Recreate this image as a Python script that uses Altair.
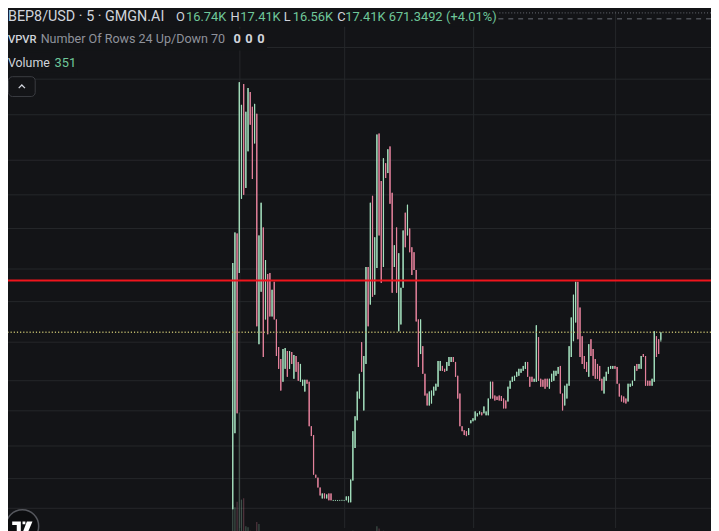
import altair as alt
import pandas as pd

# ---------------- data (prices in K) ----------------
open_ = [1.30, 8.23, 26.41, 22.81, 29.56, 40.00, 30.55, 33.88, 39.28, 37.93,
         34.60, 37.30, 16.33, 21.10, 26.95, 18.58, 22.72, 22.81, 18.85, 22.00,
         18.58, 16.06, 14.98, 12.91, 14.08, 15.70, 14.08, 15.61, 13.18, 15.25,
         14.71, 12.91, 12.55, 12.01, 13.09, 12.91, 8.86, 8.05, 4.45, 4.18,
         3.28, 2.29, 2.74, 2.29, 2.74, 2.74, 2.10, 2.10, 2.10, 2.10,
         2.10, 2.10, 2.11, 1.93, 1.93, 3.91, 6.88, 9.40, 11.38, 16.51,
         10.30, 14.53, 23.35, 19.93, 29.83, 20.83, 23.26, 35.50, 31.18, 23.35,
         32.80, 31.90, 34.33, 30.10, 23.35, 26.95, 17.50, 18.13, 21.46, 28.30,
         26.23, 26.86, 25.15, 24.70, 23.08, 18.58, 15.43, 16.15, 13.63, 11.83,
         10.75, 10.93, 11.65, 12.10, 12.46, 13.90, 14.35, 14.08, 13.90, 14.35,
         14.71, 15.16, 14.71, 13.45, 11.83, 8.86, 8.50, 8.41, 8.05, 9.13,
         9.31, 9.40, 9.76, 9.94, 10.12, 10.03, 9.85, 9.85, 11.38, 12.91,
         11.65, 11.56, 11.65, 11.60, 11.38, 11.20, 11.11, 12.28, 12.91, 13.00,
         13.36, 13.45, 13.72, 13.90, 14.08, 14.71, 13.36, 13.36, 12.91, 12.91,
         16.96, 13.18, 13.09, 13.18, 13.18, 12.28, 12.91, 13.00, 13.45, 13.63,
         14.35, 11.83, 10.75, 11.38, 12.55, 15.16, 16.60, 18.31, 22.00, 19.66,
         17.05, 15.25, 14.71, 13.36, 16.78, 15.88, 14.98, 14.53, 14.35, 13.18,
         11.83, 13.00, 13.63, 14.08, 14.08, 14.35, 14.26, 12.73, 11.65, 11.56,
         11.38, 11.11, 12.46, 12.55, 13.00, 14.53, 14.08, 14.08, 15.43, 15.25,
         13.00, 13.00, 12.55, 12.91, 17.05, 16.78, 16.74]

high = [23.71, 26.50, 26.41, 40.18, 38.11, 40.00, 37.48, 39.64, 39.28, 37.93,
        38.20, 37.30, 26.23, 29.20, 26.95, 23.98, 22.72, 22.81, 21.28, 22.00,
        18.58, 16.06, 14.98, 15.88, 15.97, 15.70, 15.70, 15.61, 15.34, 15.25,
        14.71, 14.53, 13.09, 13.09, 13.09, 12.91, 8.86, 8.05, 4.45, 4.18,
        3.28, 2.74, 2.74, 2.65, 2.74, 2.74, 2.15, 2.15, 2.14, 2.15,
        2.16, 2.15, 2.47, 2.47, 4.00, 8.41, 9.76, 12.01, 13.63, 16.51,
        15.25, 23.35, 23.35, 29.20, 29.83, 26.05, 35.41, 35.50, 31.18, 33.25,
        32.80, 34.06, 34.33, 30.10, 25.33, 26.95, 24.61, 21.46, 26.68, 28.30,
        29.02, 26.86, 25.15, 24.70, 23.08, 18.58, 18.58, 16.15, 13.63, 11.83,
        12.01, 12.10, 12.46, 12.73, 14.80, 14.80, 14.35, 14.08, 14.71, 15.16,
        15.16, 15.16, 14.71, 13.45, 11.83, 8.86, 8.50, 8.41, 8.68, 9.40,
        9.58, 10.21, 10.03, 10.21, 10.12, 10.66, 10.21, 11.38, 12.91, 12.91,
        11.65, 11.56, 11.65, 11.60, 11.38, 11.20, 12.46, 13.00, 13.36, 13.45,
        13.81, 14.08, 14.08, 14.35, 14.71, 14.71, 13.36, 13.36, 13.18, 18.04,
        16.96, 13.18, 13.09, 13.18, 13.18, 13.18, 13.63, 13.90, 13.90, 14.26,
        14.35, 11.83, 12.55, 12.73, 16.15, 18.76, 20.83, 22.00, 22.00, 19.66,
        17.05, 15.25, 14.71, 16.33, 16.78, 15.88, 14.98, 14.53, 14.35, 13.18,
        13.36, 13.81, 14.26, 14.35, 14.35, 14.35, 14.26, 12.73, 11.65, 11.56,
        11.38, 12.73, 12.73, 13.00, 14.35, 14.53, 14.53, 15.25, 15.43, 15.25,
        13.00, 13.00, 13.18, 17.50, 17.05, 16.78, 17.41]

low = [1.30, 8.23, 10.03, 22.81, 29.56, 29.92, 30.55, 33.88, 36.31, 31.36,
       34.60, 17.95, 16.33, 21.10, 15.16, 18.58, 17.23, 18.85, 18.85, 18.58,
       15.25, 14.08, 12.10, 12.91, 14.08, 13.36, 14.08, 14.53, 13.18, 13.81,
       13.00, 12.91, 12.55, 12.01, 12.73, 8.86, 7.96, 4.45, 4.18, 3.28,
       2.56, 2.29, 2.29, 2.29, 2.11, 2.11, 2.05, 2.06, 2.05, 2.06,
       2.06, 2.05, 2.11, 1.93, 1.93, 3.91, 6.88, 9.40, 11.38, 13.81,
       10.30, 14.53, 17.95, 19.93, 20.65, 20.83, 23.26, 26.23, 21.91, 23.35,
       31.45, 31.90, 29.11, 21.01, 23.35, 21.01, 17.50, 18.13, 21.46, 25.15,
       26.23, 24.70, 22.63, 23.08, 18.40, 14.26, 15.43, 13.63, 11.65, 10.75,
       10.75, 10.93, 11.65, 12.10, 12.46, 13.90, 13.90, 13.81, 13.90, 14.35,
       14.71, 14.71, 13.36, 11.38, 8.86, 8.41, 8.05, 7.96, 8.05, 9.13,
       9.31, 9.40, 9.76, 9.94, 9.85, 10.03, 9.85, 9.85, 11.38, 11.38,
       11.20, 11.25, 11.20, 11.15, 10.48, 10.48, 11.11, 12.28, 12.91, 13.00,
       13.36, 13.45, 13.72, 13.90, 14.08, 13.36, 12.46, 12.91, 12.91, 12.91,
       13.00, 12.46, 12.46, 12.28, 12.46, 12.28, 12.91, 13.00, 13.45, 13.63,
       11.83, 10.30, 10.75, 11.38, 12.55, 15.16, 16.60, 18.31, 16.78, 15.16,
       14.53, 14.08, 13.81, 13.36, 15.25, 13.45, 13.18, 13.18, 13.00, 12.10,
       11.83, 13.00, 13.63, 14.08, 14.08, 14.08, 12.73, 11.56, 11.11, 11.02,
       10.93, 11.11, 12.46, 12.55, 13.00, 13.90, 14.08, 14.08, 15.16, 12.55,
       12.55, 12.55, 12.55, 12.91, 15.16, 15.43, 16.56]

close = [23.71, 26.50, 10.03, 40.18, 38.11, 29.92, 37.48, 39.64, 36.31, 31.36,
         38.20, 17.95, 26.23, 29.20, 15.16, 23.98, 17.23, 18.85, 21.28, 18.58,
         15.25, 14.08, 12.10, 15.88, 15.97, 13.36, 15.70, 14.53, 15.34, 13.81,
         13.00, 14.53, 13.09, 13.09, 12.73, 8.86, 7.96, 4.45, 4.18, 3.28,
         2.56, 2.74, 2.29, 2.65, 2.11, 2.11, 2.10, 2.10, 2.10, 2.10,
         2.10, 2.10, 2.47, 2.47, 4.00, 8.41, 9.76, 12.01, 13.63, 13.81,
         15.25, 23.35, 17.95, 29.20, 20.65, 26.05, 35.41, 26.23, 21.91, 33.25,
         31.45, 34.06, 29.11, 21.01, 25.33, 21.01, 24.61, 21.46, 26.68, 25.15,
         29.02, 24.70, 22.63, 23.08, 18.40, 14.26, 18.58, 13.63, 11.65, 10.75,
         12.01, 12.10, 12.46, 12.73, 14.80, 14.80, 13.90, 13.81, 14.71, 15.16,
         15.16, 14.71, 13.36, 11.38, 8.86, 8.41, 8.05, 7.96, 8.68, 9.40,
         9.58, 10.21, 10.03, 10.21, 9.85, 10.66, 10.21, 11.38, 12.91, 11.38,
         11.20, 11.25, 11.20, 11.15, 10.48, 10.48, 12.46, 13.00, 13.36, 13.45,
         13.81, 14.08, 14.08, 14.35, 14.71, 13.36, 12.46, 12.91, 13.18, 18.04,
         13.00, 12.46, 12.46, 12.28, 12.46, 13.18, 13.63, 13.90, 13.90, 14.26,
         11.83, 10.30, 12.55, 12.73, 16.15, 18.76, 20.83, 22.00, 16.78, 15.16,
         14.53, 14.08, 13.81, 16.33, 15.25, 13.45, 13.18, 13.18, 13.00, 12.10,
         13.36, 13.81, 14.26, 14.35, 14.35, 14.08, 12.73, 11.56, 11.11, 11.02,
         10.93, 12.73, 12.73, 13.00, 14.35, 13.90, 14.53, 15.25, 15.16, 12.55,
         12.55, 12.55, 13.18, 17.50, 15.16, 15.43, 17.41]

volume = [11.6, 10.9, 12.6, 40.7, 13.3, 13.7, 4.9, 4.6, 3.5, 3.2,
          3.2, 6.3, 5.6, 2.1, 2.8, 1.4, 1.8, 1.1, 1.1, 1.4,
          1.8, 1.1, 1.4, 0.7, 0.7, 0.7, 0.7, 0.35, 0.7, 0.35,
          0.7, 0.35, 0.35, 0.35, 0.35, 1.1, 0.7, 1.1, 0.35, 0.35,
          0.35, 0.35, 0.35, 0.35, 0.35, 0.35, 0.18, 0.18, 0.18, 0.18,
          0.18, 0.18, 1.1, 1.8, 2.8, 3.5, 2.1, 2.1, 1.8, 1.4,
          1.8, 2.8, 2.1, 3.2, 2.8, 2.1, 4.9, 4.2, 3.2, 3.5,
          1.4, 1.8, 2.1, 2.5, 1.1, 1.4, 1.8, 1.1, 1.4, 1.1,
          1.1, 0.7, 0.7, 0.7, 1.1, 1.4, 0.7, 0.7, 0.7, 0.35,
          0.35, 0.35, 0.35, 0.35, 0.7, 0.35, 0.35, 0.35, 0.35, 0.35,
          0.35, 0.35, 0.35, 0.7, 1.1, 0.35, 0.35, 0.35, 0.35, 0.35,
          0.35, 0.35, 0.35, 0.35, 0.35, 0.35, 0.35, 0.35, 0.7, 0.35,
          0.35, 0.35, 0.35, 0.35, 0.35, 0.35, 0.35, 0.35, 0.35, 0.35,
          0.35, 0.35, 0.35, 0.35, 0.35, 0.35, 0.35, 0.35, 0.35, 1.1,
          0.7, 0.35, 0.35, 0.35, 0.35, 0.35, 0.35, 0.35, 0.35, 0.35,
          0.7, 0.7, 0.35, 0.35, 0.7, 1.1, 1.1, 1.1, 1.1, 0.7,
          0.7, 0.35, 0.35, 0.35, 0.35, 0.35, 0.35, 0.35, 0.35, 0.35,
          0.35, 0.35, 0.35, 0.35, 0.35, 0.35, 0.35, 0.35, 0.35, 0.35,
          0.35, 0.35, 0.35, 0.35, 0.35, 0.35, 0.35, 0.35, 0.35, 0.35,
          0.35, 0.35, 0.35, 0.7, 0.35, 0.35, 0.351]

grid_prices = [43.33, 40.45, 37.21, 33.07, 29.92, 26.86, 23.17,
               20.20, 16.51, 13.00, 10.26, 7.06, 4.09, 1.39]
grid_times = [3.26, 51.25, 110.3, 175.3]
resistance = [22.12]
header_levels = [46.48, 45.94]

# ---------------- style / layout ----------------
OFF = 8                      # page margin
W, H = 719 - OFF, 531 - OFF  # drawing area that is visible in the window
BG = "#131417"
GRID = "#25272b"
UP = "#a3dfbd"
DOWN = "#e3819b"
TXT = "#d1d4dc"
GREY = "#8f929b"
GREEN_TXT = "#6fc79a"
FONT = "Roboto"

df = pd.DataFrame({"t": list(range(len(open_))), "open": open_, "high": high,
                   "low": low, "close": close, "volume": volume})
df["dir"] = ["up" if c >= o else "down" for o, c in zip(open_, close)]

xs = alt.Scale(domain=[-102.90, 218.97], nice=False, zero=False)
ys = alt.Scale(domain=[-0.41, 46.66], nice=False, zero=False)
col = alt.Color("dir:N", scale=alt.Scale(domain=["up", "down"], range=[UP, DOWN]), legend=None)
X = alt.X("t:Q", scale=xs, axis=None)

hgrid = alt.Chart(pd.DataFrame({"p": grid_prices})).mark_rule(color=GRID, strokeWidth=1).encode(
    y=alt.Y("p:Q", scale=ys, axis=None))
vgrid = alt.Chart(pd.DataFrame({"t": grid_times})).mark_rule(color=GRID, strokeWidth=1).encode(x=X)

hdr = alt.Chart(pd.DataFrame({"p": header_levels, "k": ["dot", "dash"]})).mark_rule(
    color="#6b6e76", strokeWidth=1).encode(
    y=alt.Y("p:Q", scale=ys, axis=None),
    strokeDash=alt.StrokeDash("k:N", scale=alt.Scale(domain=["dot", "dash"], range=[[1, 2], [5, 5]]), legend=None))

# volume pane: its base lies just below the visible window, as in the screenshot
vol = alt.Chart(df).mark_rule(strokeWidth=1.2, opacity=0.3).encode(
    x=X, y=alt.Y("volume:Q", scale=alt.Scale(domain=[0, 42], range=[H + 14, H + 14 - 135]), axis=None),
    y2=alt.datum(0), color=col)

wick = alt.Chart(df).mark_rule(strokeWidth=1).encode(
    x=X, y=alt.Y("low:Q", scale=ys, axis=None), y2="high:Q", color=col)
body = alt.Chart(df).mark_rule(strokeWidth=1.2).encode(
    x=X, y=alt.Y("open:Q", scale=ys, axis=None), y2="close:Q", color=col)

last = alt.Chart(pd.DataFrame({"p": [close[-1]]})).mark_rule(
    color="#b9b46a", strokeWidth=1.6, strokeDash=[1.2, 2]).encode(y=alt.Y("p:Q", scale=ys, axis=None))
red = alt.Chart(pd.DataFrame({"p": resistance})).mark_rule(color="#f0141c", strokeWidth=2).encode(
    y=alt.Y("p:Q", scale=ys, axis=None))


def box(x1, x2, y1, y2, fill=BG, stroke=None, r=0):
    kw = dict(color=fill, cornerRadius=r)
    if stroke:
        kw.update(stroke=stroke, strokeWidth=1)
    return alt.Chart(pd.DataFrame({"a": [0]})).mark_rect(**kw).encode(
        x=alt.value(x1), x2=alt.value(x2), y=alt.value(y1), y2=alt.value(y2))


def txt(s, x, y, color=TXT, size=13, weight="normal"):
    return alt.Chart(pd.DataFrame({"s": [s]})).mark_text(
        align="left", baseline="alphabetic", font=FONT, fontSize=size, fontWeight=weight, color=color
    ).encode(x=alt.value(max(x - OFF, 0)), y=alt.value(y - OFF), text="s:N")


def sym(path, x, y, size, **kw):
    return alt.Chart(pd.DataFrame({"a": [0]})).mark_point(shape=path, size=size, opacity=1, **kw).encode(
        x=alt.value(x - OFF), y=alt.value(y - OFF))


o_s, h_s, l_s, c_s = "16.74K", "17.41K", "16.56K", "17.41K"
B1, B2, B3 = 18.5, 40.5, 65
texts = [
    box(0, 503 - OFF, 0, 24 - OFF), box(0, 270 - OFF, 26 - OFF, 48 - OFF), box(0, 78 - OFF, 50 - OFF, 70 - OFF),
    txt("BEP8/USD · 5 · GMGN.AI", 8, B1, TXT, 14.5),
    txt("O", 178, B1, TXT, 13), txt(o_s, 188, B1, GREEN_TXT, 13),
    txt("H", 233, B1, TXT, 13), txt(h_s, 243, B1, GREEN_TXT, 13),
    txt("L", 287, B1, TXT, 13), txt(l_s, 296, B1, GREEN_TXT, 13),
    txt("C", 341, B1, TXT, 13), txt(c_s, 349, B1, GREEN_TXT, 13),
    txt("671.3492", 393, B1, GREEN_TXT, 13), txt("(+4.01%)", 451, B1, GREEN_TXT, 13),
    txt("VPVR", 8, B2, TXT, 11.3, 500),
    txt("Number Of Rows 24 Up/Down 70", 41, B2, GREY, 12.7),
    txt("0", 236, B2, TXT, 13, "bold"), txt("0", 248, B2, TXT, 13, "bold"),
    txt("0", 260, B2, TXT, 13, "bold"),
    txt("Volume", 8, B3, TXT, 12.5), txt("351", 55, B3, GREEN_TXT, 13),
    box(0.5, 27.5, 74.5 - OFF, 94.5 - OFF, BG, "#3b3d42", 4),
    sym("M-1,0.5L0,-0.5L1,0.5", 22, 84.5, 40, filled=False, color=TXT, strokeWidth=1.3),
    sym("circle", 22.5, 529, 1090, filled=True, color="#0c0d0f", stroke="#55575d", strokeWidth=1.5),
    sym("M-1,-0.55L-0.15,-0.55L-0.15,0.75L-0.55,0.75L-0.55,-0.2L-1,-0.2Z"
        "M0.02,-0.55L0.3,-0.55L0.3,-0.27L0.02,-0.27Z"
        "M0.45,-0.55L1,-0.55L0.45,0.75L-0.05,0.75Z",
        22.5, 530, 420, filled=True, color="#ffffff", strokeWidth=0),
]

chart = alt.layer(hgrid, vgrid, hdr, vol, wick, body, last, red, *texts).resolve_scale(
    y="independent", x="independent", color="independent", strokeDash="independent"
).properties(
    width=W, height=H, background=BG, padding=0, autosize=alt.AutoSizeParams(type="none"),
    usermeta={"embedOptions": {"defaultStyle": "body{background:%s}" % BG}},
).configure_view(strokeWidth=0)

chart.save("out.html", embed_options={"renderer": "svg", "actions": False})
